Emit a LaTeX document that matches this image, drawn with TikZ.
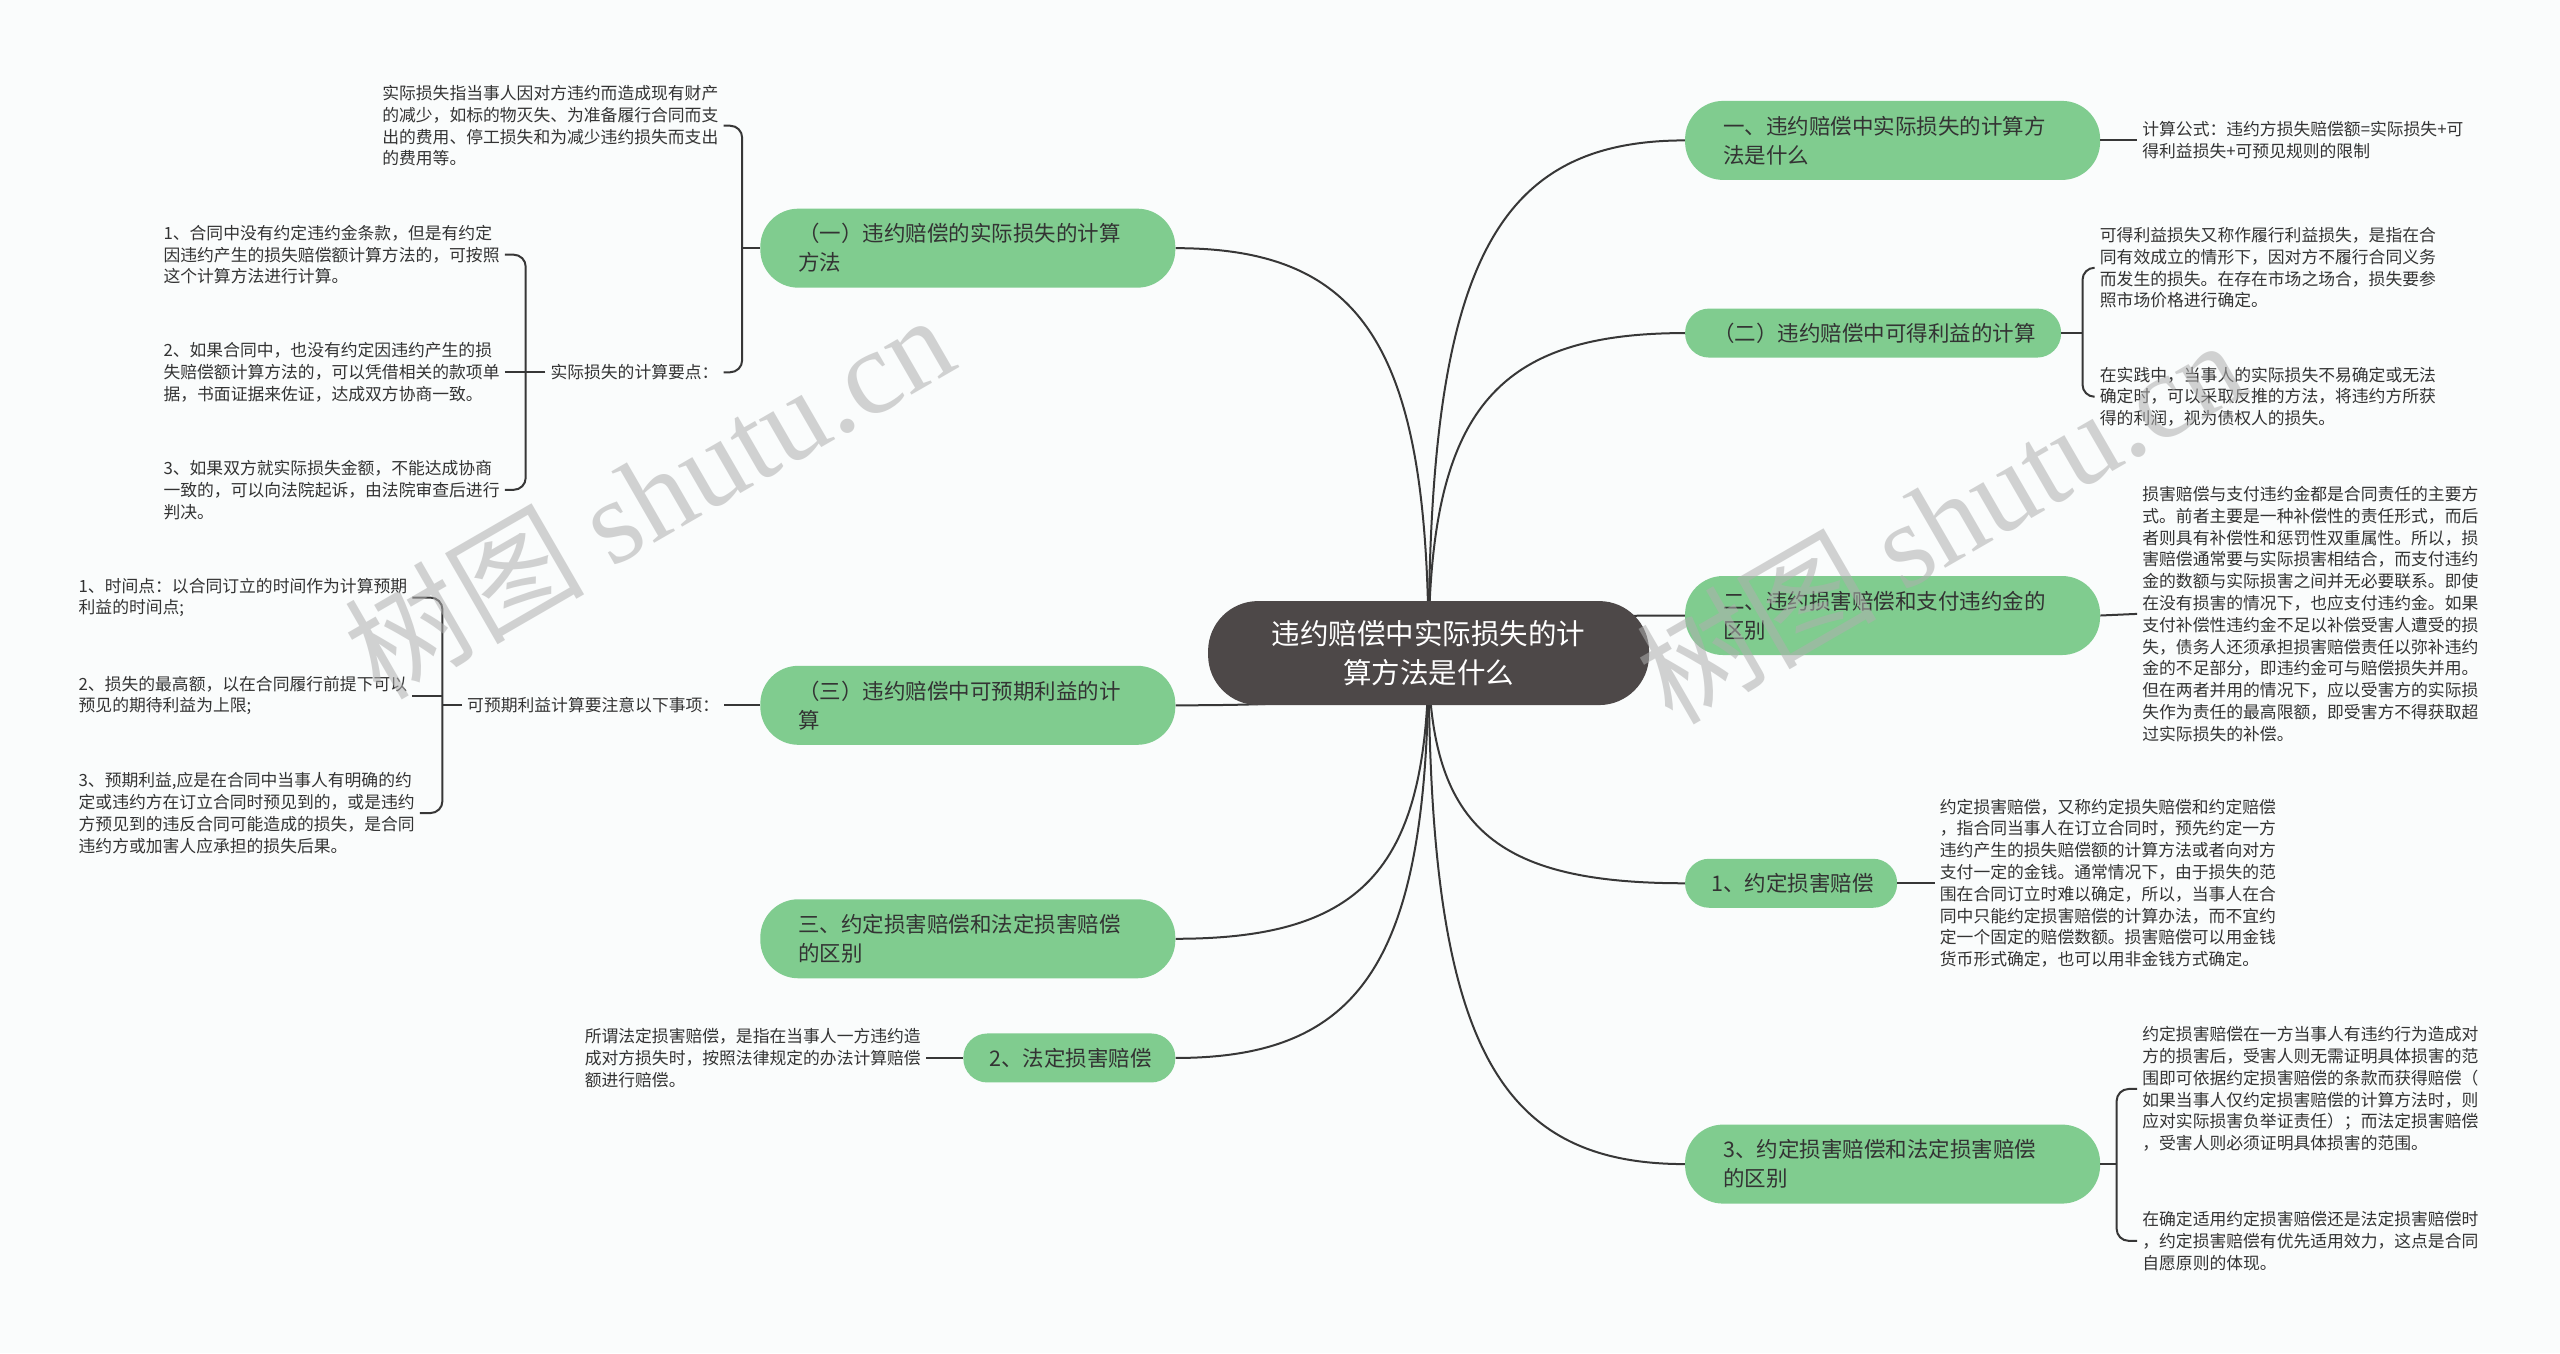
\documentclass[tikz,border=0pt]{standalone}
\usepackage{fontspec}
\setmainfont{Noto Sans CJK SC}
\newfontfamily\wmlatin{Liberation Serif}
\usetikzlibrary{calc,backgrounds}
\definecolor{bgc}{RGB}{250,252,252}
\definecolor{topicgreen}{RGB}{128,204,143}
\definecolor{centerfill}{RGB}{77,72,72}
\definecolor{ink}{RGB}{51,51,51}
\definecolor{linec}{RGB}{55,55,55}
\definecolor{wmc}{RGB}{175,175,175}
\newcommand\mmcurve[2]{\draw[conn] (#1.center) .. controls ($(#1.center)!0.75!(#1.center |- #2)$) and ($(#2)!0.75!(#1.center |- #2)$) .. (#2);}
\begin{document}
\begin{tikzpicture}[x=1.6327pt,y=-1.6327pt,
  conn/.style={draw=linec, line width=2pt},
  main/.style={fill=centerfill, text=white, rounded corners=50pt, minimum width=441pt, minimum height=104pt, align=center, font=\fontsize{28.5}{39}\selectfont, inner sep=0pt},
  topic/.style={fill=topicgreen, text=ink, align=left, font=\fontsize{21.5}{29}\selectfont, inner ysep=0pt},
  two/.style={topic, rounded corners=38pt, minimum height=79pt, inner xsep=38pt, text width=339pt},
  one/.style={topic, rounded corners=24pt, minimum height=49pt},
  leaf/.style={text=ink, align=left, font=\fontsize{16.8}{21.8}\selectfont, inner xsep=5pt, inner ysep=0pt},
  wm/.style={rotate=30, text=wmc, text opacity=0.55, font=\fontsize{120}{120}\selectfont, inner sep=0pt}
]
\begin{scope}[on background layer]
\fill[bgc] (0,0) rectangle (1568,829);
\end{scope}
\useasboundingbox (0,0) rectangle (1568,829);

% center
\node[main] (c) at (875,400) {违约赔偿中实际损失的计\\算方法是什么};

% right topics
\node[two, anchor=west] (r1) at (1032,86) {一、违约赔偿中实际损失的计算方\\法是什么};
\node[one, anchor=west, inner xsep=28pt, text width=320pt] (r2) at (1032,204) {（二）违约赔偿中可得利益的计算};
\node[two, anchor=west] (r3) at (1032,377) {二、违约损害赔偿和支付违约金的\\区别};
\node[one, anchor=west, inner xsep=26pt, text width=160pt] (r4) at (1032,541) {1、约定损害赔偿};
\node[two, anchor=west] (r5) at (1032,713) {3、约定损害赔偿和法定损害赔偿\\的区别};

% left topics
\node[two, anchor=east] (l1) at (720,152) {（一）违约赔偿的实际损失的计算\\方法};
\node[two, anchor=east] (l2) at (720,432) {（三）违约赔偿中可预期利益的计\\算};
\node[two, anchor=east] (l3) at (720,575) {三、约定损害赔偿和法定损害赔偿\\的区别};
\node[one, anchor=east, inner xsep=26pt, text width=160pt] (l4) at (720,648) {2、法定损害赔偿};

% leaves right
\node[leaf, anchor=west] (r1a) at (1309,86) {计算公式：违约方损失赔偿额=实际损失+可\\得利益损失+可预见规则的限制};
\node[leaf, anchor=west] (r2a) at (1283,164) {可得利益损失又称作履行利益损失，是指在合\\同有效成立的情形下，因对方不履行合同义务\\而发生的损失。在存在市场之场合，损失要参\\照市场价格进行确定。};
\node[leaf, anchor=west] (r2b) at (1283,243) {在实践中，当事人的实际损失不易确定或无法\\确定时，可以采取反推的方法，将违约方所获\\得的利润，视为债权人的损失。};
\node[leaf, anchor=west] (r3a) at (1309,376) {损害赔偿与支付违约金都是合同责任的主要方\\式。前者主要是一种补偿性的责任形式，而后\\者则具有补偿性和惩罚性双重属性。所以，损\\害赔偿通常要与实际损害相结合，而支付违约\\金的数额与实际损害之间并无必要联系。即使\\在没有损害的情况下，也应支付违约金。如果\\支付补偿性违约金不足以补偿受害人遭受的损\\失，债务人还须承担损害赔偿责任以弥补违约\\金的不足部分，即违约金可与赔偿损失并用。\\但在两者并用的情况下，应以受害方的实际损\\失作为责任的最高限额，即受害方不得获取超\\过实际损失的补偿。};
\node[leaf, anchor=west] (r4a) at (1185,541) {约定损害赔偿，又称约定损失赔偿和约定赔偿\\，指合同当事人在订立合同时，预先约定一方\\违约产生的损失赔偿额的计算方法或者向对方\\支付一定的金钱。通常情况下，由于损失的范\\围在合同订立时难以确定，所以，当事人在合\\同中只能约定损害赔偿的计算办法，而不宜约\\定一个固定的赔偿数额。损害赔偿可以用金钱\\货币形式确定，也可以用非金钱方式确定。};
\node[leaf, anchor=west] (r5a) at (1309,667) {约定损害赔偿在一方当事人有违约行为造成对\\方的损害后，受害人则无需证明具体损害的范\\围即可依据约定损害赔偿的条款而获得赔偿（\\如果当事人仅约定损害赔偿的计算方法时，则\\应对实际损害负举证责任）；而法定损害赔偿\\，受害人则必须证明具体损害的范围。};
\node[leaf, anchor=west] (r5b) at (1309,760) {在确定适用约定损害赔偿还是法定损害赔偿时\\，约定损害赔偿有优先适用效力，这点是合同\\自愿原则的体现。};

% leaves left
\node[leaf, anchor=west] (l1a) at (231,77) {实际损失指当事人因对方违约而造成现有财产\\的减少，如标的物灭失、为准备履行合同而支\\出的费用、停工损失和为减少违约损失而支出\\的费用等。};
\node[leaf, anchor=west] (l1lab) at (334,228) {实际损失的计算要点：};
\node[leaf, anchor=west] (l1t1) at (97,156) {1、合同中没有约定违约金条款，但是有约定\\因违约产生的损失赔偿额计算方法的，可按照\\这个计算方法进行计算。};
\node[leaf, anchor=west] (l1t2) at (97,228) {2、如果合同中，也没有约定因违约产生的损\\失赔偿额计算方法的，可以凭借相关的款项单\\据，书面证据来佐证，达成双方协商一致。};
\node[leaf, anchor=west] (l1t3) at (97,300) {3、如果双方就实际损失金额，不能达成协商\\一致的，可以向法院起诉，由法院审查后进行\\判决。};
\node[leaf, anchor=west] (l2lab) at (283,432) {可预期利益计算要注意以下事项：};
\node[leaf, anchor=west] (l2t1) at (45,366) {1、时间点：以合同订立的时间作为计算预期\\利益的时间点;};
\node[leaf, anchor=west] (l2t2) at (45,426) {2、损失的最高额，以在合同履行前提下可以\\预见的期待利益为上限;};
\node[leaf, anchor=west] (l2t3) at (45,498) {3、预期利益,应是在合同中当事人有明确的约\\定或违约方在订立合同时预见到的，或是违约\\方预见到的违反合同可能造成的损失，是合同\\违约方或加害人应承担的损失后果。};
\node[leaf, anchor=west] (l4a) at (355,648) {所谓法定损害赔偿，是指在当事人一方违约造\\成对方损失时，按照法律规定的办法计算赔偿\\额进行赔偿。};

% main curves (behind nodes)
\begin{scope}[on background layer]
\mmcurve{c}{r1.west}
\mmcurve{c}{r2.west}
\mmcurve{c}{r3.west}
\mmcurve{c}{r4.west}
\mmcurve{c}{r5.west}
\mmcurve{c}{l1.east}
\mmcurve{c}{l2.east}
\mmcurve{c}{l3.east}
\mmcurve{c}{l4.east}
\end{scope}

% simple connectors
\draw[conn] (r1.east) -- (r1a.west);
\draw[conn] (r3.east) -- (r3a.west);
\draw[conn] (r4.east) -- (r4a.west);
\draw[conn] (l4.west) -- (l4a.east);
\draw[conn] (l2.west) -- (l2lab.east);

% brackets
\coordinate (r2j) at ($(r2.east)+(13,0)$);
\draw[conn] (r2.east) -- (r2j);
\draw[conn, rounded corners=12pt] (r2a.west) -| (r2j) |- (r2b.west);

\coordinate (r5j) at ($(r5.east)+(10,0)$);
\draw[conn] (r5.east) -- (r5j);
\draw[conn, rounded corners=12pt] (r5a.west) -| (r5j) |- (r5b.west);

\coordinate (l1j) at ($(l1.west)+(-11,0)$);
\draw[conn] (l1.west) -- (l1j);
\draw[conn, rounded corners=12pt] (l1a.east) -| (l1j) |- (l1lab.east);

\coordinate (l1k) at ($(l1lab.west)+(-12,0)$);
\draw[conn] (l1lab.west) -- (l1k);
\draw[conn, rounded corners=12pt] (l1t1.east) -| (l1k) |- (l1t3.east);
\draw[conn] (l1t2.east) -- (l1t2.east -| l1k);

\coordinate (l2k) at ($(l2lab.west)+(-12,0)$);
\draw[conn] (l2lab.west) -- (l2k);
\draw[conn, rounded corners=12pt] (l2t1.east) -| (l2k) |- (l2t3.east);
\draw[conn] (l2t2.east) -- (l2t2.east -| l2k);

% watermarks
\node[wm] (wm1) at (397,303) {树图 {\wmlatin shutu.cn}};
\node[wm] (wm2) at (1188,318) {树图 {\wmlatin shutu.cn}};
\end{tikzpicture}
\end{document}
